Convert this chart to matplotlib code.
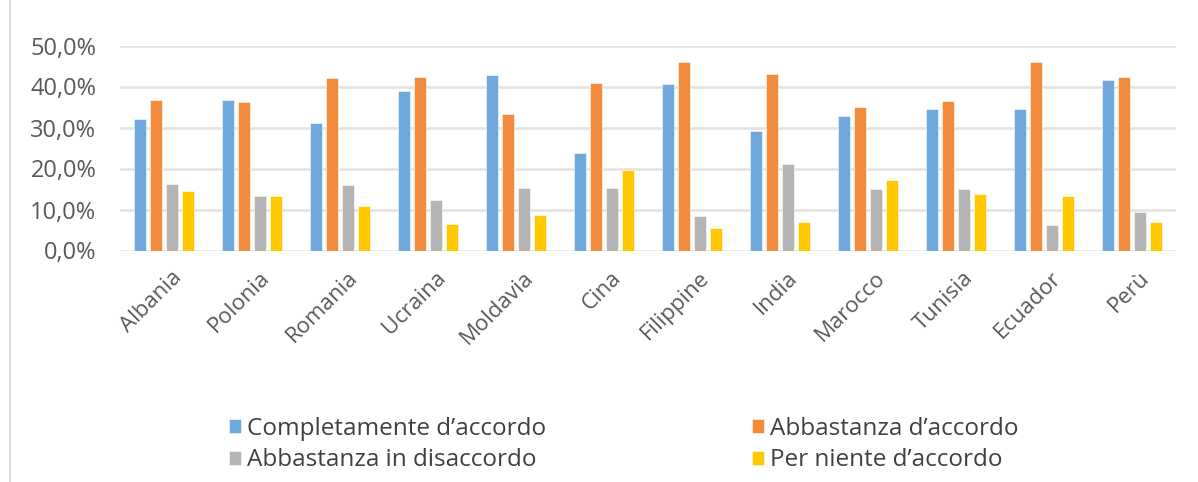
import numpy as np
import matplotlib
matplotlib.use("Agg")
import matplotlib.pyplot as plt
from matplotlib.lines import Line2D

plt.rcParams['font.family'] = ['Open Sans', 'DejaVu Sans']

paesi = ["Albania", "Polonia", "Romania", "Ucraina", "Moldavia", "Cina",
         "Filippine", "India", "Marocco", "Tunisia", "Ecuador", "Perù"]
completamente = [32.0, 36.8, 31.0, 39.0, 42.7, 23.7, 40.5, 29.1, 32.8, 34.6, 34.6, 41.5]
abbastanza = [36.8, 36.1, 42.0, 42.3, 33.2, 40.8, 45.9, 43.0, 35.0, 36.4, 45.9, 42.3]
disaccordo = [16.3, 13.4, 16.0, 12.3, 15.3, 15.2, 8.3, 21.1, 14.9, 14.9, 6.1, 9.3]
per_niente = [14.5, 13.4, 10.9, 6.5, 8.7, 19.6, 5.4, 6.9, 17.1, 13.7, 13.4, 6.9]
serie = ["Completamente d’accordo", "Abbastanza d’accordo",
         "Abbastanza in disaccordo", "Per niente d’accordo"]
colori = ["#6FA8DC", "#F28C3C", "#B4B4B4", "#FFC800"]

W, H = 1198, 482
fig = plt.figure(figsize=(W / 100, H / 100), dpi=100)
ax = fig.add_axes([120 / W, 1 - 250.5 / H, 1056 / W, 205 / H])

x = np.arange(len(paesi))
step = 0.182
w = 0.14
handles = []
for i, (vals, col) in enumerate(zip([completamente, abbastanza, disaccordo, per_niente], colori)):
  b = ax.bar(x + (i - 1.5) * step, vals, w, color=col, edgecolor="white", linewidth=0.4,
             label=serie[i], zorder=3)
  handles.append(b)

ax.set_xlim(-0.5, len(paesi) - 0.5)
ax.set_ylim(0, 50)
ax.set_yticks(np.arange(0, 51, 10))
ax.set_yticklabels([f"{v:.1f}%".replace(".", ",") for v in np.arange(0, 51, 10)],
                   fontsize=17, color="#595959")
ax.yaxis.grid(True, color="#E3E3E3", linewidth=1.8, zorder=0)
ax.set_axisbelow(True)
for s in ax.spines.values():
  s.set_visible(False)
ax.tick_params(axis="both", length=0)
ax.tick_params(axis="y", pad=17)

ax.set_xticks(x + 0.08)
ax.set_xticklabels(paesi, rotation=45, ha="right", rotation_mode="anchor",
                   fontsize=16, color="#595959")
ax.tick_params(axis="x", pad=12)

# two single-column legends, placed by hand like the original
leg_kw = dict(loc="upper left", frameon=False, fontsize=17.5, handlelength=0.5,
              handleheight=0.5, handletextpad=0.25, labelspacing=0.3,
              borderpad=0, borderaxespad=0)
leg1 = fig.legend([handles[0], handles[2]], [serie[0], serie[2]],
                  bbox_to_anchor=(229 / W, 1 - 417 / H), **leg_kw)
leg2 = fig.legend([handles[1], handles[3]], [serie[1], serie[3]],
                  bbox_to_anchor=(752 / W, 1 - 417 / H), **leg_kw)
for leg in (leg1, leg2):
  for t in leg.get_texts():
    t.set_color("#404040")

fig.add_artist(Line2D([10 / W, 10 / W], [0.0, 1.0], color="#D9D9D9", linewidth=1.5))

fig.savefig("out.png", dpi=100, facecolor="white")
